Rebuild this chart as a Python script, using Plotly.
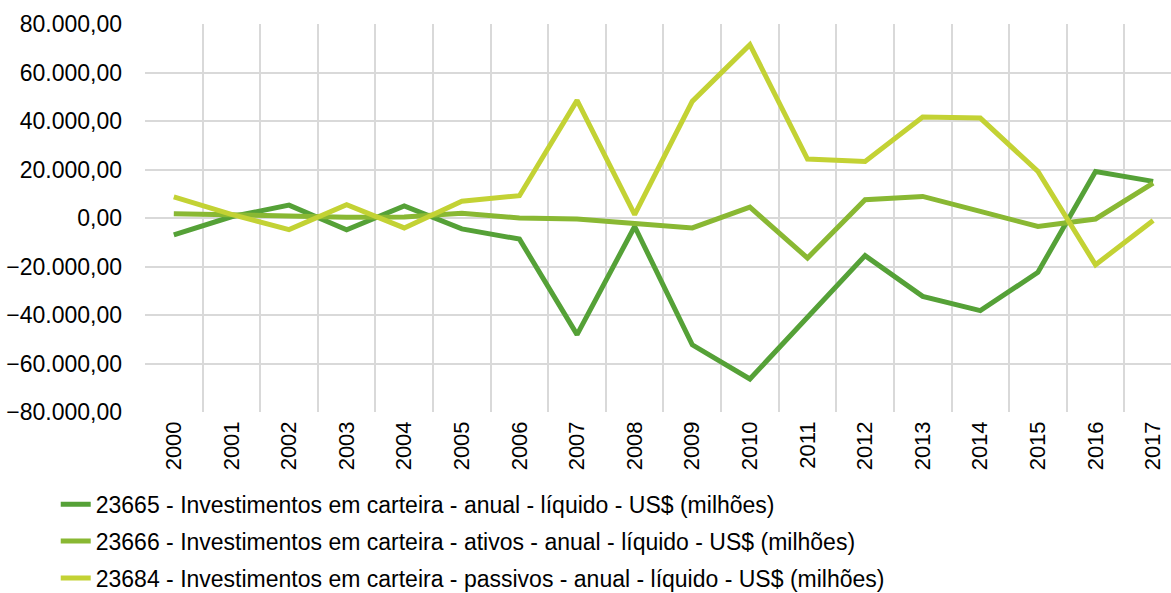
import plotly.graph_objects as go

years = [str(y) for y in range(2000, 2018)]
s23665 = [-7000, 500, 5300, -4900, 5000, -4500, -8700, -48100, -3500, -52300,
          -66400, -40800, -15500, -32300, -38200, -22400, 19200, 15100]
s23666 = [1800, 1200, 700, 300, 400, 2000, 0, -400, -2300, -4100,
          4500, -16500, 7500, 8900, 2700, -3500, -400, 14400]
s23684 = [8700, 1500, -4800, 5500, -4100, 6900, 9200, 48500, 1400, 48100,
          71500, 24300, 23300, 41600, 41200, 19200, -19300, -1000]

names = [
    "23665 - Investimentos em carteira - anual - líquido - US$ (milhões)",
    "23666 - Investimentos em carteira - ativos - anual - líquido - US$ (milhões)",
    "23684 - Investimentos em carteira - passivos - anual - líquido - US$ (milhões)",
]
colors = ["#55A137", "#89B833", "#C3D234"]
series = [s23665, s23666, s23684]

fig = go.Figure()
for i, (nm, vals, col) in enumerate(zip(names, series, colors)):
    fig.add_trace(go.Scatter(
        x=years, y=vals, name=nm, mode="lines",
        line=dict(color=col, width=5),
        legendgroup=f"g{i}",
    ))

fig.update_layout(
    width=1171, height=593,
    margin=dict(l=145, r=0, t=24, b=181),
    paper_bgcolor="white", plot_bgcolor="white",
    separators=",.",
    font=dict(family="Liberation Sans, Arial, sans-serif", size=23, color="#000000"),
    showlegend=True,
    legend=dict(
        orientation="v", x=-0.087, xanchor="left", xref="paper",
        y=0.186, yanchor="top", yref="container",
        font=dict(size=23),
        traceorder="grouped", tracegroupgap=4,
        bgcolor="rgba(0,0,0,0)",
    ),
)
fig.update_xaxes(
    type="category", tickson="boundaries",
    range=[-0.5, 17.31],
    showgrid=True, gridcolor="#D9D9D9", gridwidth=2,
    tickangle=-90, tickfont=dict(size=22),
    showline=False, zeroline=False,
    ticks="", ticklabelstandoff=4,
)
fig.update_yaxes(
    range=[-80000, 80000], dtick=20000, tick0=0,
    tickformat=",.2f",
    showgrid=True, gridcolor="#D9D9D9", gridwidth=2,
    zeroline=False, showline=False,
    ticks="", ticklabelstandoff=22,
)
fig.write_html("out.html")
